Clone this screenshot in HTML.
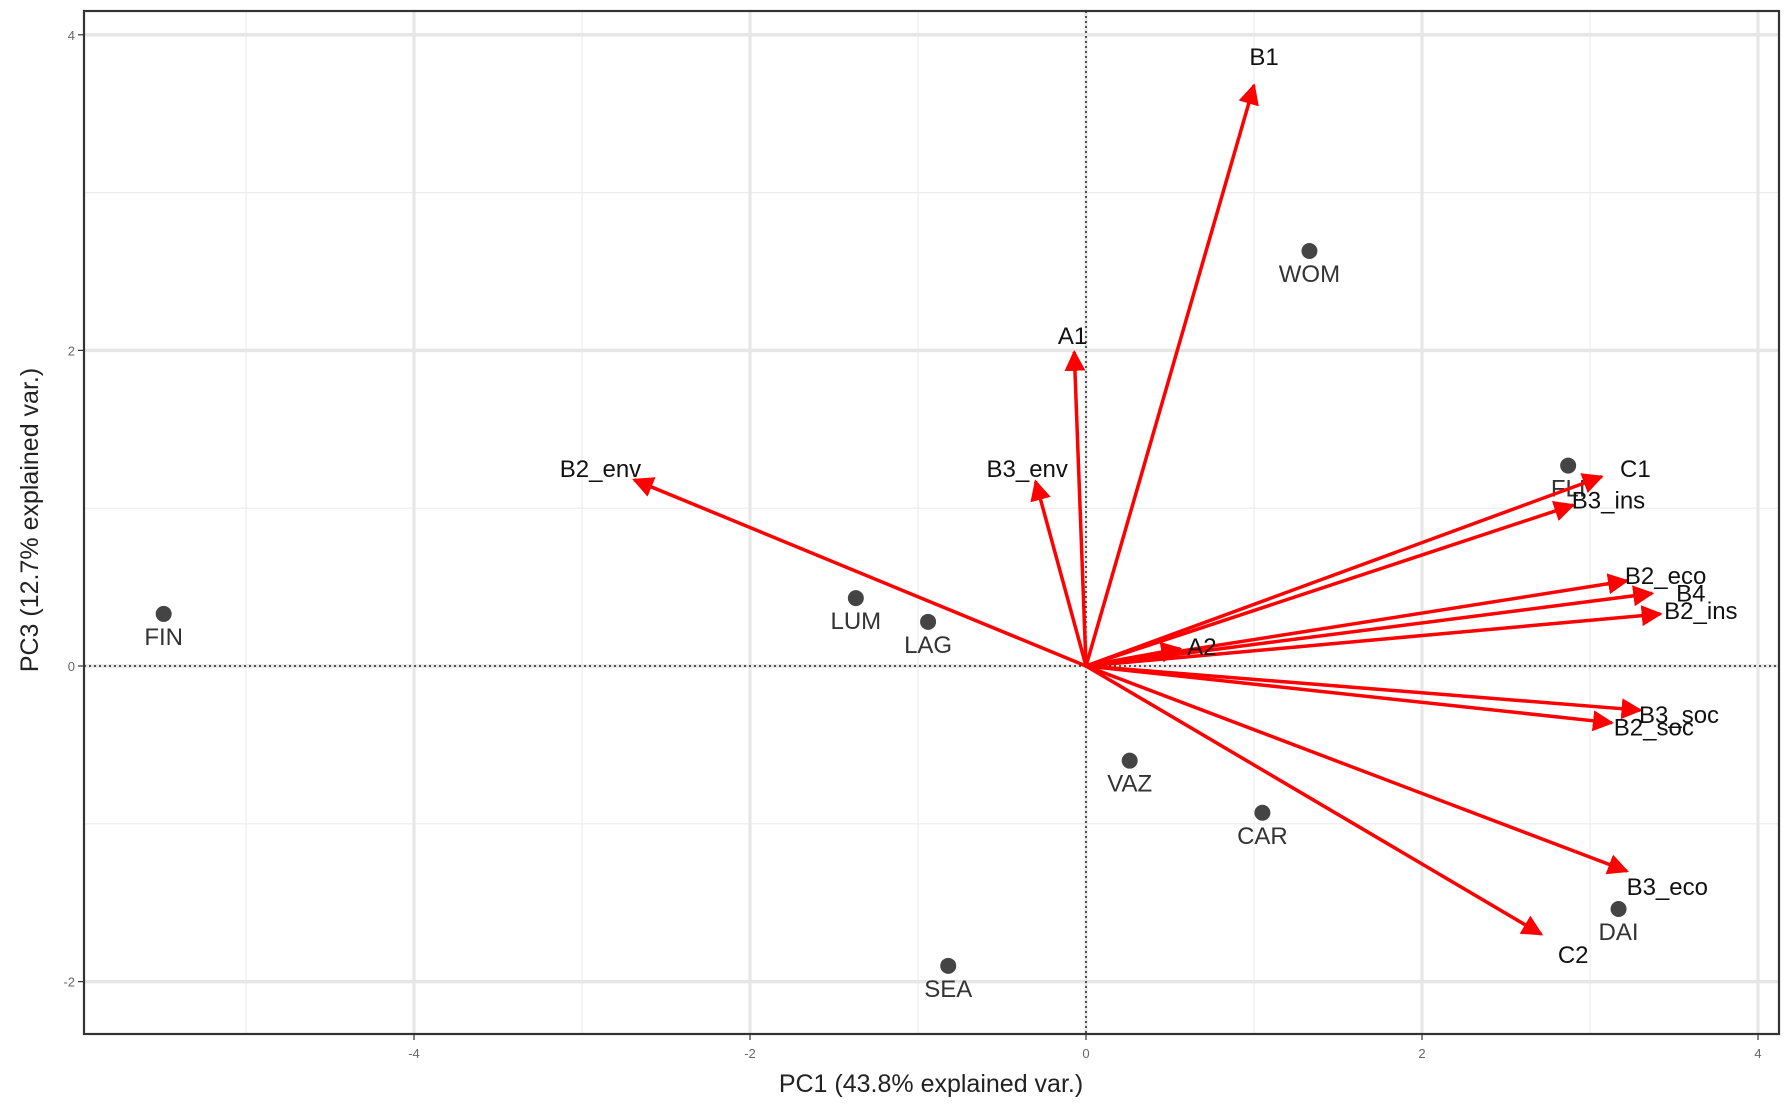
<!DOCTYPE html>
<html><head><meta charset="utf-8"><style>
html,body{margin:0;padding:0;background:#fff;}
svg{display:block;font-family:"Liberation Sans",Arial,sans-serif;}
</style></head><body>
<svg id="chart" width="1792" height="1105" viewBox="0 0 1792 1105" xmlns="http://www.w3.org/2000/svg"></svg>
<script>
const xTicks = [-4, -2, 0, 2, 4];
const yTicks = [-2, 0, 2, 4];
const xMinor = [-5, -3, -1, 1, 3];
const yMinor = [-1, 1, 3];
const pointNames = ["FIN","LUM","LAG","WOM","FLI","VAZ","CAR","DAI","SEA"];
const pointX = [-5.49,-1.37,-0.94,1.33,2.87,0.26,1.05,3.17,-0.82];
const pointY = [0.33,0.43,0.28,2.63,1.27,-0.60,-0.93,-1.54,-1.90];
const varNames = ["B1","A1","B2_env","B3_env","C1","B3_ins","B2_eco","B4","B2_ins","A2","B3_soc","B2_soc","B3_eco","C2"];
const varX = [1.0,-0.07,-2.69,-0.30,3.07,2.90,3.22,3.37,3.42,0.56,3.30,3.13,3.22,2.71];
const varY = [3.68,1.99,1.18,1.17,1.20,1.02,0.54,0.46,0.33,0.11,-0.28,-0.36,-1.30,-1.70];
const labelX = [1.06,-0.08,-2.89,-0.35,3.27,3.11,3.45,3.60,3.66,0.69,3.53,3.38,3.46,2.90];
const labelY = [3.86,2.09,1.25,1.25,1.25,1.05,0.57,0.46,0.35,0.12,-0.31,-0.39,-1.40,-1.83];

const L=84,R=1779,T=11,B=1034;
const sx = v => 1086 + v*168;
const sy = v => 666 - v*157.8;
const svg = document.getElementById('chart');
const NS='http://www.w3.org/2000/svg';
function mk(tag, attrs, parent){const e=document.createElementNS(NS,tag);for(const k in attrs)e.setAttribute(k,attrs[k]);(parent||svg).appendChild(e);return e;}

const defs = mk('defs',{});
const marker = mk('marker',{id:'ah',viewBox:'0 0 10 10',refX:'9',refY:'5',markerWidth:'6',markerHeight:'6',orient:'auto',markerUnits:'strokeWidth'},defs);
mk('path',{d:'M0,0 L10,5 L0,10 z',fill:'#ff0000'},marker);

const grid = mk('g',{});


xMinor.forEach(v=>{const l=mk('line',{x1:sx(v),x2:sx(v),y1:T,y2:B,stroke:'#ececec','stroke-width':1.2},grid);});
yMinor.forEach(v=>{const l=mk('line',{x1:L,x2:R,y1:sy(v),y2:sy(v),stroke:'#ececec','stroke-width':1.2},grid);});
xTicks.forEach(v=>{const l=mk('line',{x1:sx(v),x2:sx(v),y1:T,y2:B,stroke:'#e6e6e6','stroke-width':3},grid);});
yTicks.forEach(v=>{const l=mk('line',{x1:L,x2:R,y1:sy(v),y2:sy(v),stroke:'#e6e6e6','stroke-width':3.5},grid);});

const zx = mk('line',{x1:sx(0),x2:sx(0),y1:T,y2:B,stroke:'#222','stroke-width':1.5,'stroke-dasharray':'2,3'});


const zy = mk('line',{x1:L,x2:R,y1:sy(0),y2:sy(0),stroke:'#222','stroke-width':1.5,'stroke-dasharray':'2,3'});



// points
pointNames.forEach((n,i)=>{
  const c=mk('circle',{cx:sx(pointX[i]),cy:sy(pointY[i]),r:8,fill:'#444'});
  
  
  const t=mk('text',{x:sx(pointX[i]),y:sy(pointY[i])+31,'text-anchor':'middle','font-size':24,fill:'#333'});
  t.textContent=n;
  
  
});

// arrows
varNames.forEach((n,i)=>{
  const a=mk('line',{x1:sx(0),y1:sy(0),x2:sx(varX[i]),y2:sy(varY[i]),stroke:'#ff0000','stroke-width':3.5,'marker-end':'url(#ah)'});
  
  
});
varNames.forEach((n,i)=>{
  const t=mk('text',{x:sx(labelX[i]),y:sy(labelY[i])+8,'text-anchor':'middle','font-size':24,fill:'#111'});
  t.textContent=n;
  
  
});

// panel border
const pb = mk('rect',{x:L,y:T,width:R-L,height:B-T,fill:'none',stroke:'#333','stroke-width':2.2});



// ticks
xTicks.forEach(v=>{
  const tk=mk('line',{x1:sx(v),x2:sx(v),y1:B,y2:B+6,stroke:'#333','stroke-width':1.2});
  
  
  const t=mk('text',{x:sx(v),y:B+24,'text-anchor':'middle','font-size':13,fill:'#666'});
  t.textContent=v;
  
  
});
yTicks.forEach(v=>{
  const tk=mk('line',{x1:L-6,x2:L,y1:sy(v),y2:sy(v),stroke:'#333','stroke-width':1.2});
  
  
  const t=mk('text',{x:L-9,y:sy(v)+5,'text-anchor':'end','font-size':13,fill:'#666'});
  t.textContent=v;
  
  
});

const xt=mk('text',{x:931,y:1092,'text-anchor':'middle','font-size':25,fill:'#222'});
xt.textContent='PC1 (43.8% explained var.)';


const yt=mk('text',{x:0,y:0,'text-anchor':'middle','font-size':25,fill:'#222',transform:'translate(38,520) rotate(-90)'});
yt.textContent='PC3 (12.7% explained var.)';


</script>
</body></html>
